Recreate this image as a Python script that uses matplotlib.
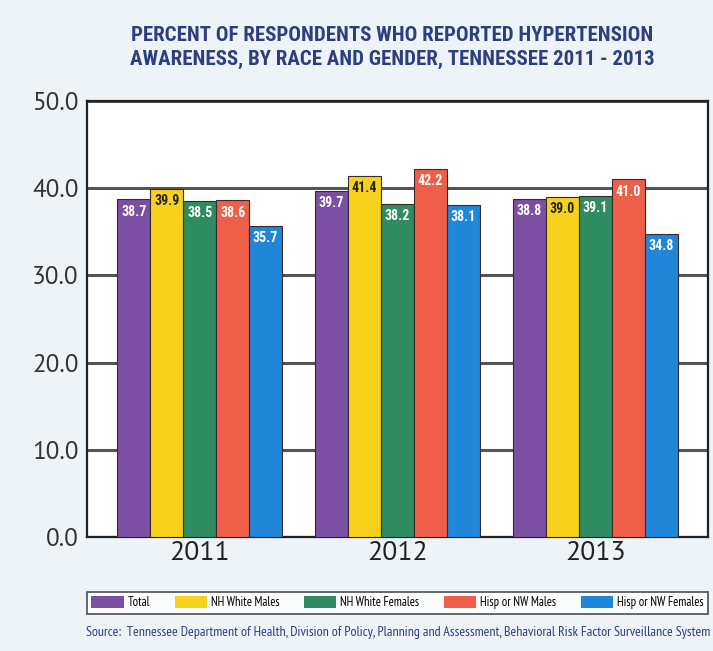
import matplotlib.pyplot as plt
import numpy as np
from matplotlib.patches import Patch

years = ['2011', '2012', '2013']
groups = ['Total', 'NH White Males', 'NH White Females', 'Hisp or NW Males', 'Hisp or NW Females']
values = {
    'Total': [38.7, 39.7, 38.8],
    'NH White Males': [39.9, 41.4, 39.0],
    'NH White Females': [38.5, 38.2, 39.1],
    'Hisp or NW Males': [38.6, 42.2, 41.0],
    'Hisp or NW Females': [35.7, 38.1, 34.8],
}
colors = ['#7b4fa3', '#f6d21c', '#2f8b60', '#ee5e48', '#1f86d8']
label_colors = ['white', '#222222', 'white', 'white', 'white']
yticks = [0, 10, 20, 30, 40, 50]

title_font = ['Roboto Condensed', 'DejaVu Sans']
label_font = ['Roboto Condensed', 'DejaVu Sans']
small_font = ['PT Sans Narrow', 'DejaVu Sans']
tick_font = ['PT Sans', 'Open Sans', 'DejaVu Sans']
navy = '#2c3f7e'
bg = '#eef3f8'

fig = plt.figure(figsize=(7.13, 6.51), dpi=100, facecolor=bg)
ax = fig.add_axes([0.122, 0.175, 0.871, 0.670])
ax.set_facecolor('white')

x = np.arange(len(years))
w = 0.1667
for i, g in enumerate(groups):
    pos = x + (i - 2) * w
    bars = ax.bar(pos, values[g], w, color=colors[i], edgecolor='#3a2a2a',
                  linewidth=0.8, zorder=3)
    for b, v in zip(bars, values[g]):
        ax.text(b.get_x() + b.get_width() / 2, v - 0.6, f'{v:.1f}',
                ha='center', va='top', fontsize=10, fontweight='bold',
                color=label_colors[i], family=label_font, zorder=4)

ax.set_xlim(-0.57, 2.57)
ax.set_ylim(0, 50)
ax.set_yticks(yticks)
ax.set_yticklabels([f'{t:.1f}' for t in yticks], fontsize=18, color='#333333',
                   family=tick_font)
ax.set_xticks(x)
ax.set_xticklabels(years, fontsize=20, color='#222222', family=tick_font)
ax.tick_params(axis='y', length=0, pad=6)
ax.tick_params(axis='x', length=0, pad=3)
ax.yaxis.grid(True, color='#555555', linewidth=2.2, zorder=1)
for s in ax.spines.values():
    s.set_color('#222222')
    s.set_linewidth(1.6)

fig.text(0.55, 0.946, 'PERCENT OF RESPONDENTS WHO REPORTED HYPERTENSION',
         ha='center', va='center', fontsize=15, fontweight='bold', color=navy, family=title_font)
fig.text(0.55, 0.908, 'AWARENESS, BY RACE AND GENDER, TENNESSEE 2011 - 2013',
         ha='center', va='center', fontsize=15, fontweight='bold', color=navy, family=title_font)

handles = [Patch(facecolor=c, edgecolor='none') for c in colors]
leg = fig.legend(handles, groups, loc='center', ncol=5, mode='expand',
                 bbox_to_anchor=(0.122, 0.056, 0.871, 0.036),
                 prop={'family': small_font, 'size': 9}, frameon=True,
                 handlelength=2.6, handleheight=1.1, handletextpad=0.3,
                 borderpad=0.35, borderaxespad=0, fancybox=False)
leg.get_frame().set_edgecolor('#222222')
leg.get_frame().set_linewidth(1.2)
leg.get_frame().set_facecolor('white')

fig.text(0.12, 0.028, 'Source:  Tennessee Department of Health, Division of Policy, Planning and Assessment, '
         'Behavioral Risk Factor Surveillance System',
         ha='left', va='center', fontsize=10, color=navy, family=small_font)

fig.savefig('out.png', dpi=100, facecolor=bg)
